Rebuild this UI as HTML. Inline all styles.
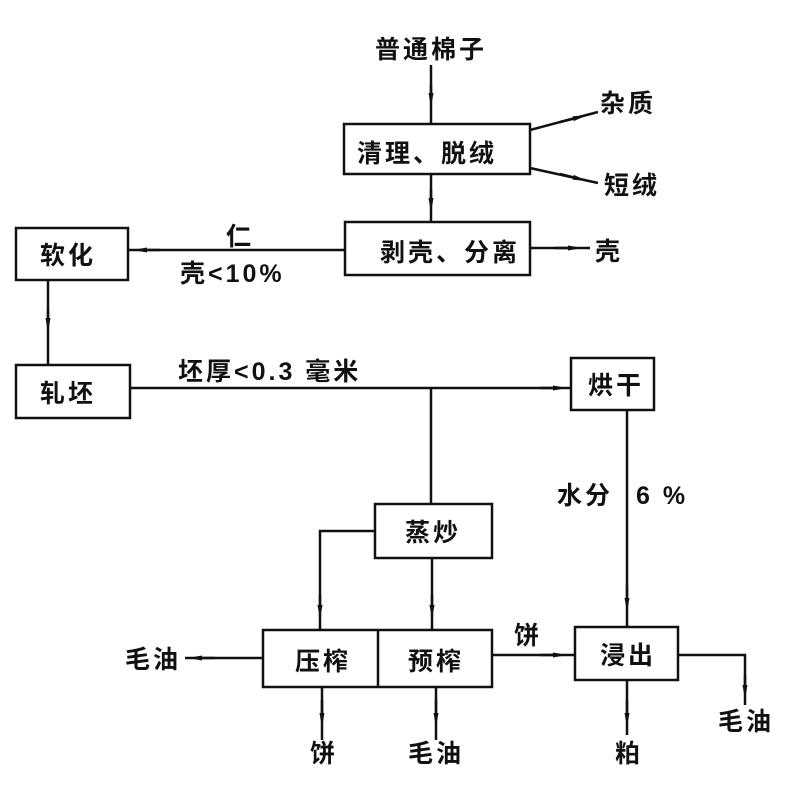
<!DOCTYPE html>
<html><head><meta charset="utf-8"><style>
html,body{margin:0;padding:0;background:#fff;}
svg text{font-family:"Liberation Sans","Noto Sans CJK SC",sans-serif;font-size:25px;font-weight:bold;fill:#111;letter-spacing:3px;}
</style></head><body>
<svg width="793" height="780" viewBox="0 0 793 780" xmlns="http://www.w3.org/2000/svg">
<defs>
<marker id="a" markerWidth="14" markerHeight="8" refX="7" refY="4" orient="auto" markerUnits="userSpaceOnUse">
<path d="M0,1.5 L14,4 L0,6.5 Z" fill="#111"/></marker>
</defs>
<g stroke="#111" stroke-width="2.5" fill="none">
<rect x="344" y="124" width="186" height="50"/>
<rect x="345" y="222" width="185" height="53"/>
<rect x="16" y="228" width="112" height="52"/>
<rect x="16" y="365" width="114" height="53"/>
<rect x="571" y="358" width="83" height="52"/>
<rect x="375" y="504" width="117" height="54"/>
<rect x="263" y="630" width="229" height="57"/>
<line x1="378" y1="630" x2="378" y2="687"/>
<rect x="575" y="627" width="103" height="53"/>
<path d="M431,65 V124"/><path d="M431,174 V222"/>
<path d="M530,130 L598,112"/><path d="M530,168 L598,183"/>
<path d="M345,250 H128"/><path d="M530,248 H590"/>
<path d="M48,280 V365"/>
<path d="M130,388 H571"/><path d="M431,388 V504"/>
<path d="M627,410 V627"/>
<path d="M375,531 H320 V630"/><path d="M432,558 V630"/>
<path d="M263,658 H185"/>
<path d="M322,687 V740"/><path d="M436,687 V740"/>
<path d="M492,655 H575"/>
<path d="M627,680 V735"/>
<path d="M678,655 H745 V705"/>
</g>
<g stroke="#111" stroke-width="2.5">
<line x1="431" y1="85" x2="431" y2="100" marker-end="url(#a)"/>
<line x1="431" y1="190" x2="431" y2="205" marker-end="url(#a)"/>
<line x1="560" y1="122" x2="580" y2="117" marker-end="url(#a)"/>
<line x1="560" y1="174" x2="580" y2="179" marker-end="url(#a)"/>
<line x1="160" y1="250" x2="140" y2="250" marker-end="url(#a)"/>
<line x1="555" y1="248" x2="575" y2="248" marker-end="url(#a)"/>
<line x1="48" y1="310" x2="48" y2="325" marker-end="url(#a)"/>
<line x1="540" y1="388" x2="560" y2="388" marker-end="url(#a)"/>
<line x1="627" y1="585" x2="627" y2="605" marker-end="url(#a)"/>
<line x1="320" y1="595" x2="320" y2="612" marker-end="url(#a)"/>
<line x1="432" y1="595" x2="432" y2="612" marker-end="url(#a)"/>
<line x1="215" y1="658" x2="195" y2="658" marker-end="url(#a)"/>
<line x1="322" y1="700" x2="322" y2="720" marker-end="url(#a)"/>
<line x1="436" y1="700" x2="436" y2="720" marker-end="url(#a)"/>
<line x1="540" y1="655" x2="560" y2="655" marker-end="url(#a)"/>
<line x1="627" y1="700" x2="627" y2="720" marker-end="url(#a)"/>
<line x1="745" y1="675" x2="745" y2="692" marker-end="url(#a)"/>
</g>
<text x="375" y="58">普通棉子</text>
<text x="600" y="112">杂质</text>
<text x="604" y="194">短绒</text>
<text x="357" y="162">清理、脱绒</text>
<text x="380" y="261">剥壳、分离</text>
<text x="595" y="260">壳</text>
<text x="40" y="264">软化</text>
<text x="226" y="245">仁</text>
<text x="180" y="282">壳&lt;10%</text>
<text x="40" y="402">轧坯</text>
<text x="178" y="380">坯厚&lt;0.3 毫米</text>
<text x="588" y="394">烘干</text>
<text x="557" y="504">水分</text>
<text x="636" y="504">6 %</text>
<text x="405" y="541">蒸炒</text>
<text x="295" y="670">压榨</text>
<text x="408" y="670">预榨</text>
<text x="125" y="668">毛油</text>
<text x="514" y="644">饼</text>
<text x="600" y="664">浸出</text>
<text x="310" y="762">饼</text>
<text x="408" y="762">毛油</text>
<text x="615" y="762">粕</text>
<text x="718" y="730">毛油</text>
</svg>
</body></html>
